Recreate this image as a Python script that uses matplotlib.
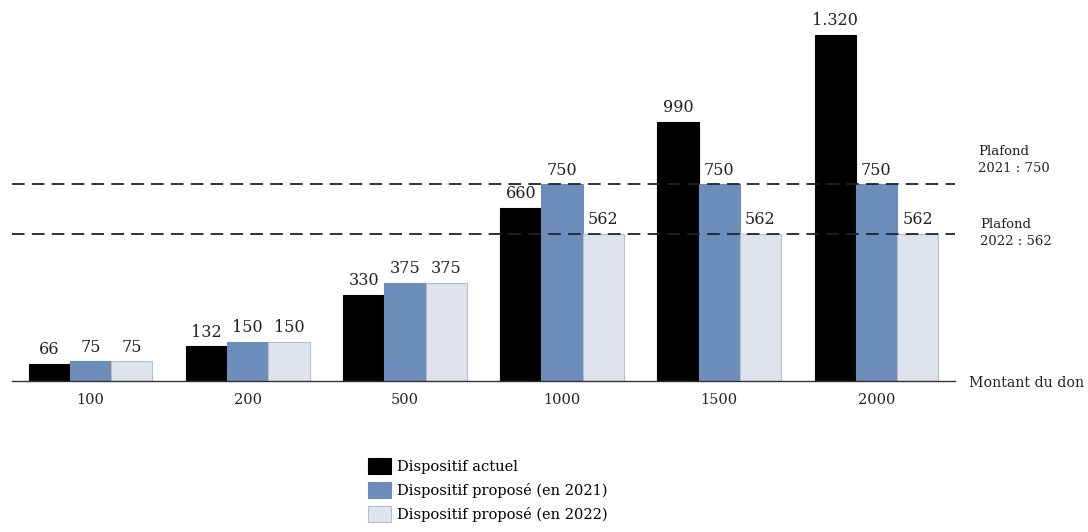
import matplotlib
matplotlib.use("Agg")
import matplotlib.pyplot as plt
from matplotlib.patches import Patch

categories = ["100", "200", "500", "1000", "1500", "2000"]
actuel = [66, 132, 330, 660, 990, 1320]
propose_2021 = [75, 150, 375, 750, 750, 750]
propose_2022 = [75, 150, 375, 562, 562, 562]
plafond_2021 = 750
plafond_2022 = 562
series_names = ["Dispositif actuel", "Dispositif proposé (en 2021)", "Dispositif proposé (en 2022)"]

colors = ["#000000", "#6c8cb9", "#dee3ee"]
edges = ["#000000", "#6c8cb9", "#b8bcc4"]

plt.rcParams['font.family'] = ['DejaVu Serif']
fs = 10.5

fig = plt.figure(figsize=(10.88, 5.32), dpi=100)
W, H = 1088, 532
ax = fig.add_axes([12 / W, 1 - 381 / H, (955 - 12) / W, (381 - 10) / H])

n = len(categories)
x = list(range(n))
bw = 0.262
px_per_unit = (381 - 35) / 1320
ax.set_ylim(0, (381 - 10) / px_per_unit)
ax.set_xlim(-0.5, n - 0.5)

def fmt(v):
    return f"{v:,}".replace(",", ".")

for i, (vals, c, e) in enumerate(zip([actuel, propose_2021, propose_2022], colors, edges)):
    pos = [xi + (i - 1) * bw for xi in x]
    ax.bar(pos, vals, width=bw, color=c, edgecolor=e, linewidth=0.8, zorder=2)
    for p, v in zip(pos, vals):
        ax.text(p, v + 22, fmt(v), ha="center", va="bottom", fontsize=11.5, color="#222222")

ax.axhline(plafond_2021, color="#222222", linestyle=(0, (7, 4)), linewidth=1.3, zorder=3)
ax.axhline(plafond_2022, color="#222222", linestyle=(0, (7, 4)), linewidth=1.3, zorder=3)

for s in ["top", "right", "left"]:
    ax.spines[s].set_visible(False)
ax.spines["bottom"].set_color("#333333")
ax.spines["bottom"].set_linewidth(1.0)
ax.set_yticks([])
ax.set_xticks(x)
ax.set_xticklabels(categories, fontsize=fs, color="#222222")
ax.tick_params(axis="x", length=0, pad=9)

fig.text(978 / W, 1 - 160 / H, f"Plafond\n2021 : {plafond_2021}", fontsize=9.5, va="center", ha="left", color="#222222", linespacing=1.4)
fig.text(980 / W, 1 - 233 / H, f"Plafond\n2022 : {plafond_2022}", fontsize=9.5, va="center", ha="left", color="#222222", linespacing=1.4)
fig.text(969 / W, 1 - 383 / H, "Montant du don", fontsize=10.2, va="center", ha="left", color="#222222")

handles = [Patch(facecolor=c, edgecolor=e, linewidth=0.8) for c, e in zip(colors, edges)]
leg = fig.legend(handles, series_names, loc="upper left", bbox_to_anchor=(362 / W, 1 - 452 / H),
                 frameon=False, fontsize=fs, handlelength=1.6, handleheight=1.3,
                 handletextpad=0.4, labelspacing=0.55, borderaxespad=0)

fig.savefig("out.png", dpi=100)
